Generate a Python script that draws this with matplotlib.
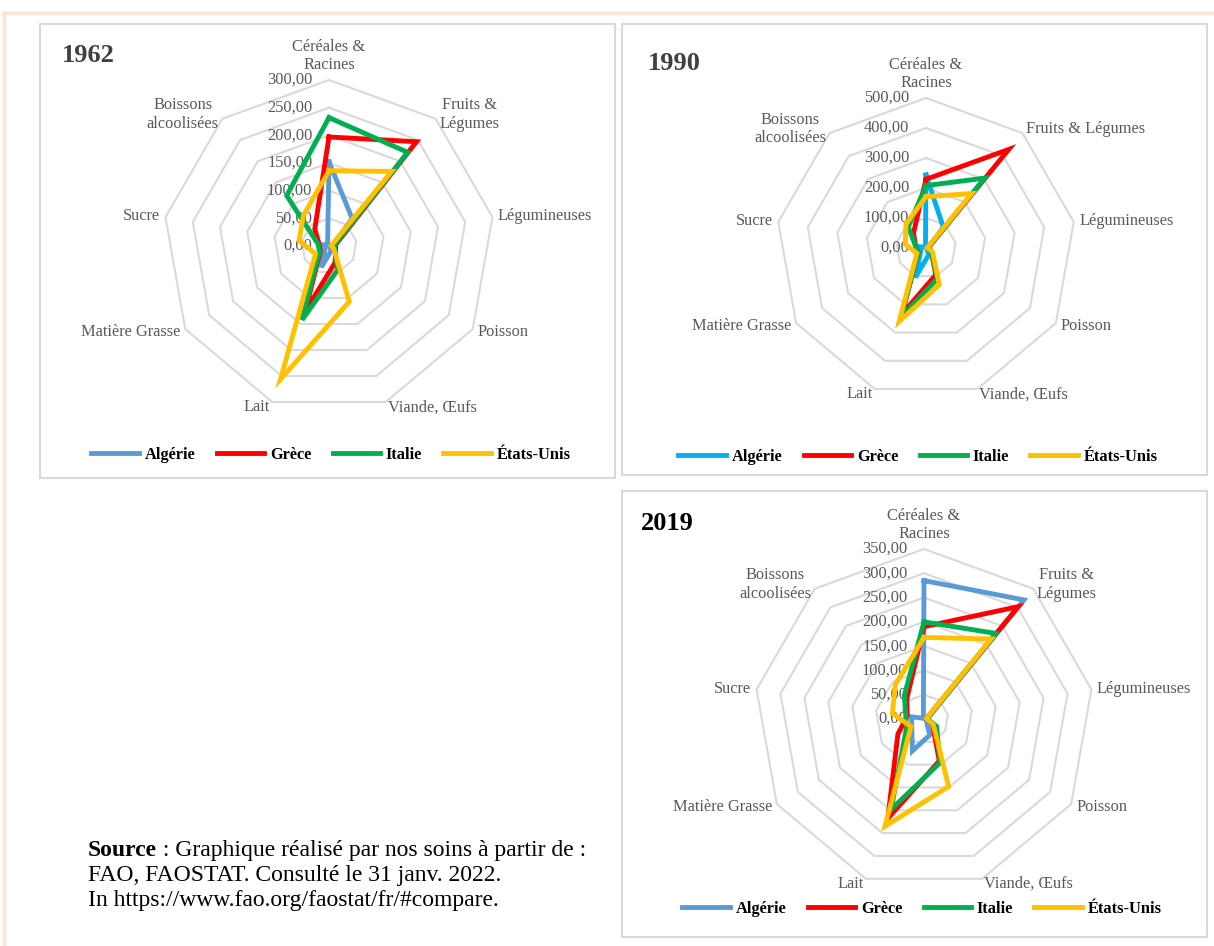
import numpy as np
import matplotlib.pyplot as plt
from matplotlib.patches import Rectangle
from matplotlib.lines import Line2D
from matplotlib.text import Annotation

plt.rcParams['font.family'] = ['Liberation Serif', 'DejaVu Serif']

# axes of the radar, clockwise from the top
categories = ["Céréales &\nRacines", "Fruits &\nLégumes", "Légumineuses", "Poisson",
              "Viande, Œufs", "Lait", "Matière Grasse", "Sucre", "Boissons\nalcoolisées"]
categories_1990 = ["Céréales &\nRacines", "Fruits & Légumes", "Légumineuses", "Poisson",
                   "Viande, Œufs", "Lait", "Matière Grasse", "Sucre", "Boissons\nalcoolisées"]
pays = ["Algérie", "Grèce", "Italie", "États-Unis"]

# kg / habitant / an
algerie_1962 = [152, 65, 8, 2, 10, 41, 8, 12, 4]
grece_1962 = [197, 246, 12, 14, 32, 125, 18, 18, 40]
italie_1962 = [232, 221, 10, 12, 46, 142, 20, 20, 119]
usa_1962 = [136, 176, 4, 10, 107, 256, 28, 55, 72]

algerie_1990 = [243, 90, 8, 4, 25, 105, 20, 30, 3]
grece_1990 = [229, 429, 8, 20, 95, 235, 30, 35, 65]
italie_1990 = [208, 304, 6, 20, 110, 245, 30, 35, 92]
usa_1990 = [171, 237, 4, 25, 130, 260, 35, 70, 104]

algerie_2019 = [285, 320, 8, 5, 35, 70, 29, 26, 2]
grece_2019 = [190, 302, 5, 20, 92, 218, 62, 35, 55]
italie_2019 = [200, 230, 6, 30, 96, 198, 42, 38, 63]
usa_2019 = [168, 215, 5, 22, 148, 235, 31, 66, 92]

W, H = 1214, 946
fig = plt.figure(figsize=(W / 100, H / 100), dpi=100)
fig.patch.set_facecolor('white')


def fx(x):
    return x / W


def fy(y):
    return 1 - y / H


def frame(x0, y0, x1, y1, color='#D9D9D9', lw=1.5):
    fig.add_artist(Rectangle((fx(x0), fy(y1)), fx(x1 - x0), (y1 - y0) / H,
                             transform=fig.transFigure, fill=False,
                             edgecolor=color, lw=lw))


def radar(cx, cy, radius, rmax, step, series, colors, labels, title, title_xy,
          title_color, leg_xy):
    ax = fig.add_axes([fx(cx - radius), fy(cy + radius), fx(2 * radius), 2 * radius / H],
                      projection='polar')
    ax.set_theta_offset(np.pi / 2)
    ax.set_theta_direction(-1)
    ax.set_ylim(0, rmax)
    ax.grid(False)
    ax.set_xticks([])
    ax.set_yticks([])
    ax.spines['polar'].set_visible(False)
    ax.patch.set_visible(False)

    n = len(labels)
    theta = np.linspace(0, 2 * np.pi, n, endpoint=False)
    closed = np.append(theta, theta[0])

    ticks = np.arange(0, rmax + step / 2, step)
    for r in ticks[1:]:
        ax.plot(closed, [r] * (n + 1), color='#D9D9D9', lw=1.5, zorder=1, clip_on=False)
    for r in ticks:
        ax.annotate(f"{r:.2f}".replace('.', ','), xy=(0, r), xytext=(-12, 0),
                    textcoords='offset points', ha='right', va='center',
                    fontsize=11.8, color='#595959', zorder=2)

    for t, lab in zip(theta, labels):
        s, c = np.sin(t), np.cos(t)
        if abs(s) < 0.1:
            ha, va, off = 'center', 'bottom', (0, 5)
        else:
            ha = 'left' if s > 0 else 'right'
            va = 'center'
            off = (4 * s, 4 * c)
        ax.annotate(lab, xy=(t, rmax), xytext=off, textcoords='offset points',
                    ha=ha, va=va, multialignment='center', fontsize=11.8,
                    color='#595959', annotation_clip=False)

    handles = []
    for vals, col, name in zip(series, colors, pays):
        v = np.append(vals, vals[0])
        ln, = ax.plot(closed, v, color=col, lw=3.5, solid_joinstyle='miter',
                      zorder=3, clip_on=False, label=name)
        handles.append(ln)

    ax.legend(handles=handles, loc='center', bbox_to_anchor=(fx(leg_xy[0]), fy(leg_xy[1])),
              bbox_transform=fig.transFigure, ncol=4, frameon=False,
              handlelength=2.9, handletextpad=0.35, columnspacing=1.3,
              prop={'family': 'Liberation Serif', 'weight': 'bold', 'size': 11.8})

    fig.text(fx(title_xy[0]), fy(title_xy[1]), title, fontsize=19, fontweight='bold',
             color=title_color, ha='left', va='center')


# outer border and panel frames
fig.add_artist(Line2D([fx(3), fx(1214)], [fy(13), fy(13)], transform=fig.transFigure,
                      color='#FBE5D6', lw=2.5))
fig.add_artist(Line2D([fx(4), fx(4)], [fy(13), fy(946)], transform=fig.transFigure,
                      color='#FBE5D6', lw=2.5))
frame(40, 24, 615, 478)
frame(622, 24, 1207, 475)
frame(622, 491, 1207, 937)

excel_colors = ['#5B9BD5', '#FF0000', '#00B050', '#FFC000']
colors_1990 = ['#00B0F0', '#FF0000', '#00B050', '#FFC000']

radar(329, 246, 166, 300, 50,
      [algerie_1962, grece_1962, italie_1962, usa_1962], excel_colors, categories,
      "1962", (62, 56), '#404040', (331, 455))
radar(926, 248, 150, 500, 100,
      [algerie_1990, grece_1990, italie_1990, usa_1990], colors_1990, categories_1990,
      "1990", (648, 63), '#404040', (918, 457))
radar(924, 719, 170, 350, 50,
      [algerie_2019, grece_2019, italie_2019, usa_2019], excel_colors, categories,
      "2019", (641, 523), '#000000', (922, 909))

# source note
src = fig.text(fx(88), fy(850), "Source", fontsize=17, fontweight='bold', ha='left',
               va='center')
fig.add_artist(Annotation(" : Graphique réalisé par nos soins à partir de :",
                          xy=(1, 0.5), xycoords=src, ha='left', va='center',
                          fontsize=17))
fig.text(fx(88), fy(875), "FAO, FAOSTAT. Consulté le 31 janv. 2022.", fontsize=17,
         ha='left', va='center')
fig.text(fx(88), fy(900), "In https://www.fao.org/faostat/fr/#compare.", fontsize=17,
         ha='left', va='center')

fig.savefig('out.png', dpi=100)
